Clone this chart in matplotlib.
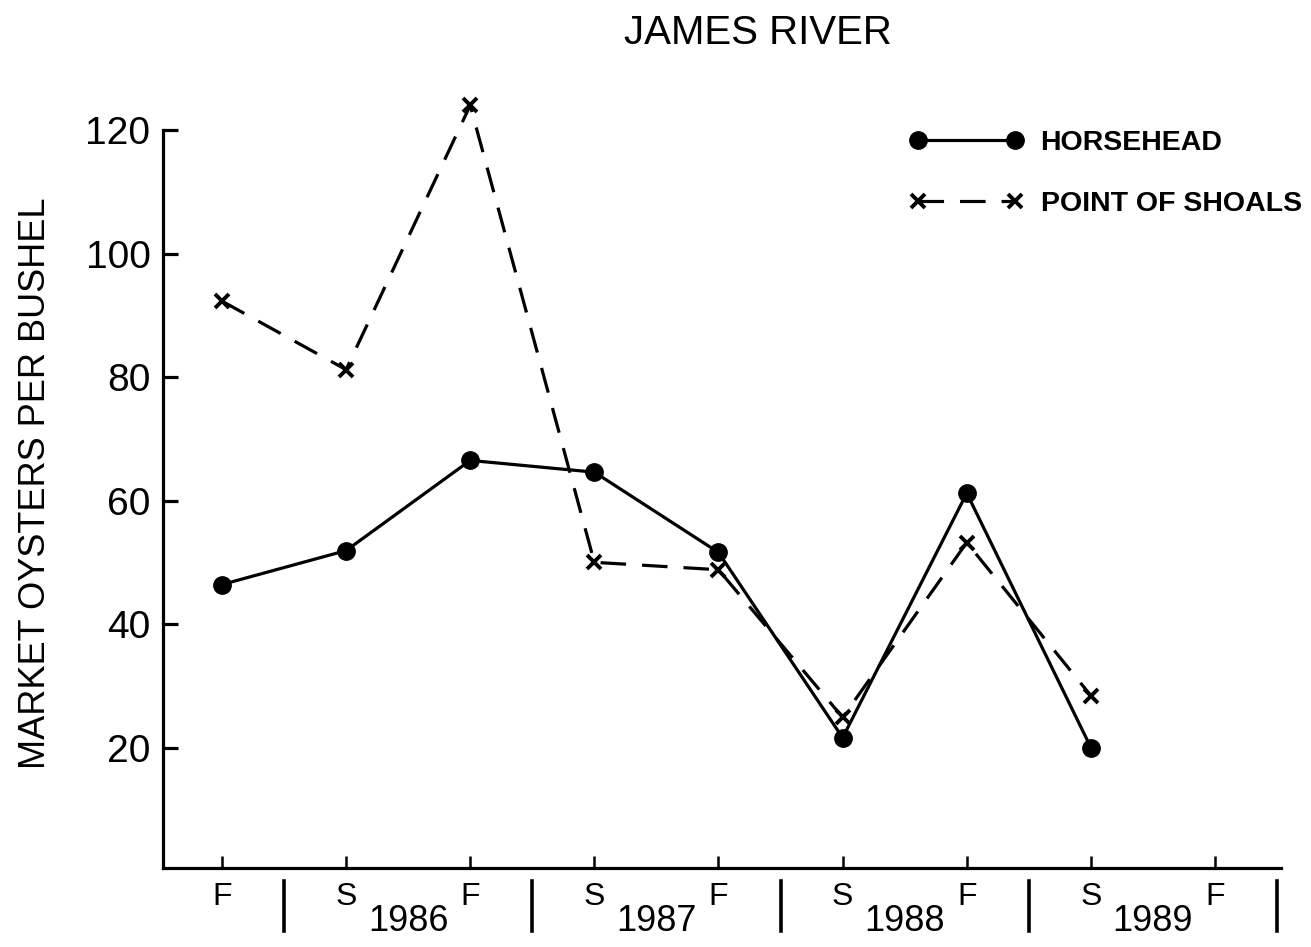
import numpy as np
import matplotlib
matplotlib.use('Agg')
import matplotlib.pyplot as plt

plt.rcParams['font.family'] = ['Liberation Sans', 'DejaVu Sans']

# ---------- Date ----------
seasons = ['F', 'S', 'F', 'S', 'F', 'S', 'F', 'S', 'F']
years = ['1986', '1987', '1988', '1989']
horsehead = [46.4, 51.9, 66.5, 64.6, 51.6, 21.6, 61.2, 20.0]
point_of_shoals = [92.3, 81.2, 124.0, 50.0, 48.8, 24.9, 53.2, 28.4]
y_ticks = [20, 40, 60, 80, 100, 120]

x_idx = np.arange(len(horsehead))
x_ticks = np.arange(len(seasons))
year_pos = np.arange(len(years)) * 2 + 1.5
sep_pos = np.arange(len(years) + 1) * 2 + 0.5

# ---------- Figura ----------
fig = plt.figure(figsize=(13.11, 9.47), dpi=100)
ax = fig.add_axes([0.1243, 0.0834, 0.8527, 0.7793])

ax.plot(x_idx, horsehead, color='black', lw=2.3, marker='o', ms=12.5,
        label='HORSEHEAD', clip_on=False, zorder=3)
ax.plot(x_idx, point_of_shoals, color='black', lw=2.3, ls=(0, (8, 5)),
        marker='x', ms=10, mew=2.8, label='POINT OF SHOALS',
        clip_on=False, zorder=3)

ax.set_xlim(-0.475, 8.53)
ax.set_ylim(0.5, 120)
ax.spines['top'].set_visible(False)
ax.spines['right'].set_visible(False)
ax.spines['left'].set_linewidth(2.3)
ax.spines['bottom'].set_linewidth(2.3)

ax.set_yticks(y_ticks)
ax.set_yticklabels([str(v) for v in y_ticks], fontsize=28)
ax.tick_params(axis='y', direction='in', length=11, width=2.3, pad=9)
ax.set_xticks(x_ticks)
ax.set_xticklabels(seasons, fontsize=23)
ax.tick_params(axis='x', direction='in', length=9, width=1.8, pad=10)

# ani si separatoare sub axa
for xp, yr in zip(year_pos, years):
    ax.text(xp, -0.073, yr, transform=ax.get_xaxis_transform(),
            ha='center', va='center', fontsize=26)
for xp in sep_pos:
    ax.plot([xp, xp], [-0.017, -0.085], transform=ax.get_xaxis_transform(),
            color='black', lw=2.6, clip_on=False)

ax.set_ylabel('MARKET OYSTERS PER BUSHEL', fontsize=26)
ax.yaxis.set_label_coords(-0.098, 0.522)
fig.text(0.578, 0.965, 'JAMES RIVER', ha='center', va='center', fontsize=29)

leg = ax.legend(loc='upper left', bbox_to_anchor=(0.645, 1.035), frameon=False,
                numpoints=2, handlelength=4.0, handletextpad=0.6,
                labelspacing=1.25, prop={'weight': 'bold', 'size': 20.5})

plt.savefig('out.png', dpi=100)
